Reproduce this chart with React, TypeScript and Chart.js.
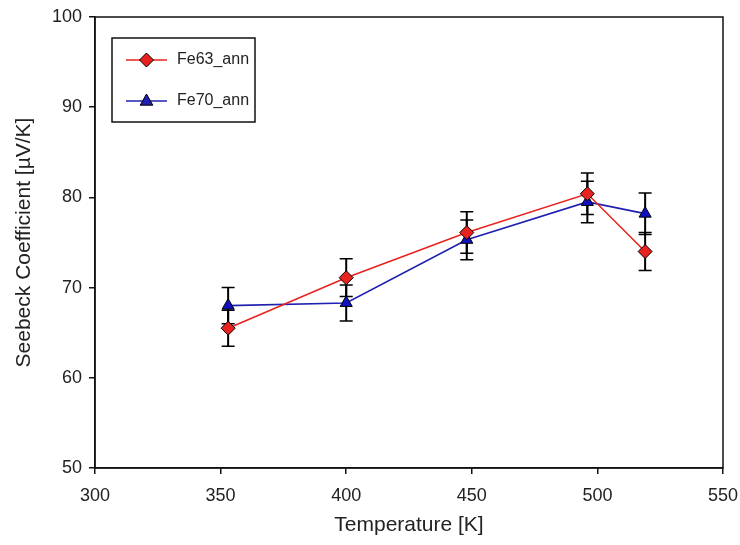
import React, { useEffect, useRef } from "react";
import { Chart, registerables } from "chart.js";

Chart.register(...registerables);

const temperatures = [353, 400, 448, 496, 519];
const fe63Values = [65.5, 71.1, 76.1, 80.4, 74.0];
const fe63Errors = [2.0, 2.1, 2.3, 2.3, 2.1];
const fe70Values = [68.0, 68.3, 75.3, 79.5, 78.2];
const fe70Errors = [2.0, 2.0, 2.2, 2.3, 2.3];
const seriesNames = ["Fe63_ann", "Fe70_ann"];
const xTitle = "Temperature [K]";
const yTitle = "Seebeck Coefficient [\u00b5V/K]";

const RED = "#e8231f";
const BLUE = "#2020b0";
const FONT = "'Liberation Sans', Arial, sans-serif";

function drawMarker(ctx: CanvasRenderingContext2D, kind: string, x: number, y: number, fill: string) {
  ctx.save();
  ctx.beginPath();
  const r = 7;
  if (kind === "diamond") {
    ctx.moveTo(x, y - r);
    ctx.lineTo(x + r, y);
    ctx.lineTo(x, y + r);
    ctx.lineTo(x - r, y);
  } else {
    ctx.moveTo(x, y - r);
    ctx.lineTo(x + r * 0.9, y + r * 0.6);
    ctx.lineTo(x - r * 0.9, y + r * 0.6);
  }
  ctx.closePath();
  ctx.fillStyle = fill;
  ctx.fill();
  ctx.lineWidth = 1;
  ctx.strokeStyle = "#000";
  ctx.stroke();
  ctx.restore();
}

const errorBarPlugin = {
  id: "errorBars",
  beforeDatasetsDraw(chart: any) {
    const ctx = chart.ctx;
    const xs = chart.scales.x;
    const ys = chart.scales.y;
    const sets = [
      { v: fe63Values, e: fe63Errors },
      { v: fe70Values, e: fe70Errors },
    ];
    ctx.save();
    ctx.strokeStyle = "#000";
    sets.forEach((s) => {
      temperatures.forEach((t, i) => {
        const px = xs.getPixelForValue(t);
        const top = ys.getPixelForValue(s.v[i] + s.e[i]);
        const bot = ys.getPixelForValue(s.v[i] - s.e[i]);
        ctx.lineWidth = 2;
        ctx.beginPath();
        ctx.moveTo(px, top);
        ctx.lineTo(px, bot);
        ctx.stroke();
        ctx.lineWidth = 1.5;
        ctx.beginPath();
        ctx.moveTo(px - 6.5, top);
        ctx.lineTo(px + 6.5, top);
        ctx.moveTo(px - 6.5, bot);
        ctx.lineTo(px + 6.5, bot);
        ctx.stroke();
      });
    });
    ctx.restore();
  },
};

const framePlugin = {
  id: "frameLegend",
  afterDraw(chart: any) {
    const ctx = chart.ctx;
    const a = chart.chartArea;
    ctx.save();
    ctx.strokeStyle = "#111";
    ctx.lineWidth = 1.5;
    ctx.strokeRect(a.left, a.top, a.right - a.left, a.bottom - a.top);
    const lx = a.left + 17;
    const ly = a.top + 21;
    const lw = 143;
    const lh = 84;
    ctx.fillStyle = "#fff";
    ctx.fillRect(lx, ly, lw, lh);
    ctx.lineWidth = 1.5;
    ctx.strokeStyle = "#111";
    ctx.strokeRect(lx, ly, lw, lh);
    const rows = [
      { name: seriesNames[0], color: RED, kind: "diamond", y: ly + 22 },
      { name: seriesNames[1], color: BLUE, kind: "triangle", y: ly + 63 },
    ];
    rows.forEach((r) => {
      ctx.strokeStyle = r.color;
      ctx.lineWidth = 1.5;
      ctx.beginPath();
      ctx.moveTo(lx + 14, r.y);
      ctx.lineTo(lx + 55, r.y);
      ctx.stroke();
      drawMarker(ctx, r.kind, lx + 34.5, r.y, r.color);
      ctx.fillStyle = "#222";
      ctx.font = `16px ${FONT}`;
      ctx.textBaseline = "middle";
      ctx.textAlign = "left";
      ctx.fillText(r.name, lx + 65, r.y);
    });
    ctx.restore();
  },
};

export default function App() {
  const ref = useRef<HTMLCanvasElement | null>(null);
  useEffect(() => {
    document.body.style.margin = "0";
    if (!ref.current) return;
    const chart = new Chart(ref.current, {
      type: "line",
      data: {
        datasets: [
          {
            label: seriesNames[0],
            data: temperatures.map((t, i) => ({ x: t, y: fe63Values[i] })),
            borderColor: RED,
            backgroundColor: RED,
            borderWidth: 1.6,
            pointStyle: "rectRot",
            pointRadius: 7,
            pointBorderColor: "#000",
            pointBorderWidth: 1,
            pointBackgroundColor: RED,
            tension: 0,
          },
          {
            label: seriesNames[1],
            data: temperatures.map((t, i) => ({ x: t, y: fe70Values[i] })),
            borderColor: BLUE,
            backgroundColor: BLUE,
            borderWidth: 1.6,
            pointStyle: "triangle",
            pointRadius: 7,
            pointBorderColor: "#000",
            pointBorderWidth: 1,
            pointBackgroundColor: "#1010c0",
            tension: 0,
          },
        ],
      },
      options: {
        responsive: false,
        animation: false,
        layout: { padding: { top: 17, right: 17, left: 0, bottom: 0 } },
        plugins: {
          legend: { display: false },
          tooltip: { enabled: false },
        },
        scales: {
          x: {
            type: "linear",
            min: 300,
            max: 550,
            afterFit: (s: any) => {
              s.height = 77;
              s.paddingLeft = 0;
              s.paddingRight = 0;
            },
            ticks: {
              stepSize: 50,
              color: "#222",
              font: { family: FONT, size: 18 },
              padding: 11,
            },
            grid: { drawOnChartArea: false, drawTicks: true, tickLength: 6, color: "#111", lineWidth: 1.5 },
            border: { color: "#111", width: 1.5 },
            title: {
              display: true,
              text: xTitle,
              color: "#222",
              font: { family: FONT, size: 21 },
              padding: { top: 0, bottom: 7 },
            },
          },
          y: {
            type: "linear",
            min: 50,
            max: 100,
            afterFit: (s: any) => {
              s.width = 95;
              s.paddingTop = 0;
              s.paddingBottom = 0;
            },
            ticks: {
              stepSize: 10,
              color: "#222",
              font: { family: FONT, size: 18 },
              padding: 7,
            },
            grid: { drawOnChartArea: false, drawTicks: true, tickLength: 6, color: "#111", lineWidth: 1.5 },
            border: { color: "#111", width: 1.5 },
            title: {
              display: true,
              text: yTitle,
              color: "#222",
              font: { family: FONT, size: 21 },
              padding: { top: 12, bottom: 0 },
            },
          },
        },
      },
      plugins: [errorBarPlugin, framePlugin],
    });
    return () => chart.destroy();
  }, []);
  return <canvas ref={ref} width={740} height={545} style={{ display: "block" }} />;
}
